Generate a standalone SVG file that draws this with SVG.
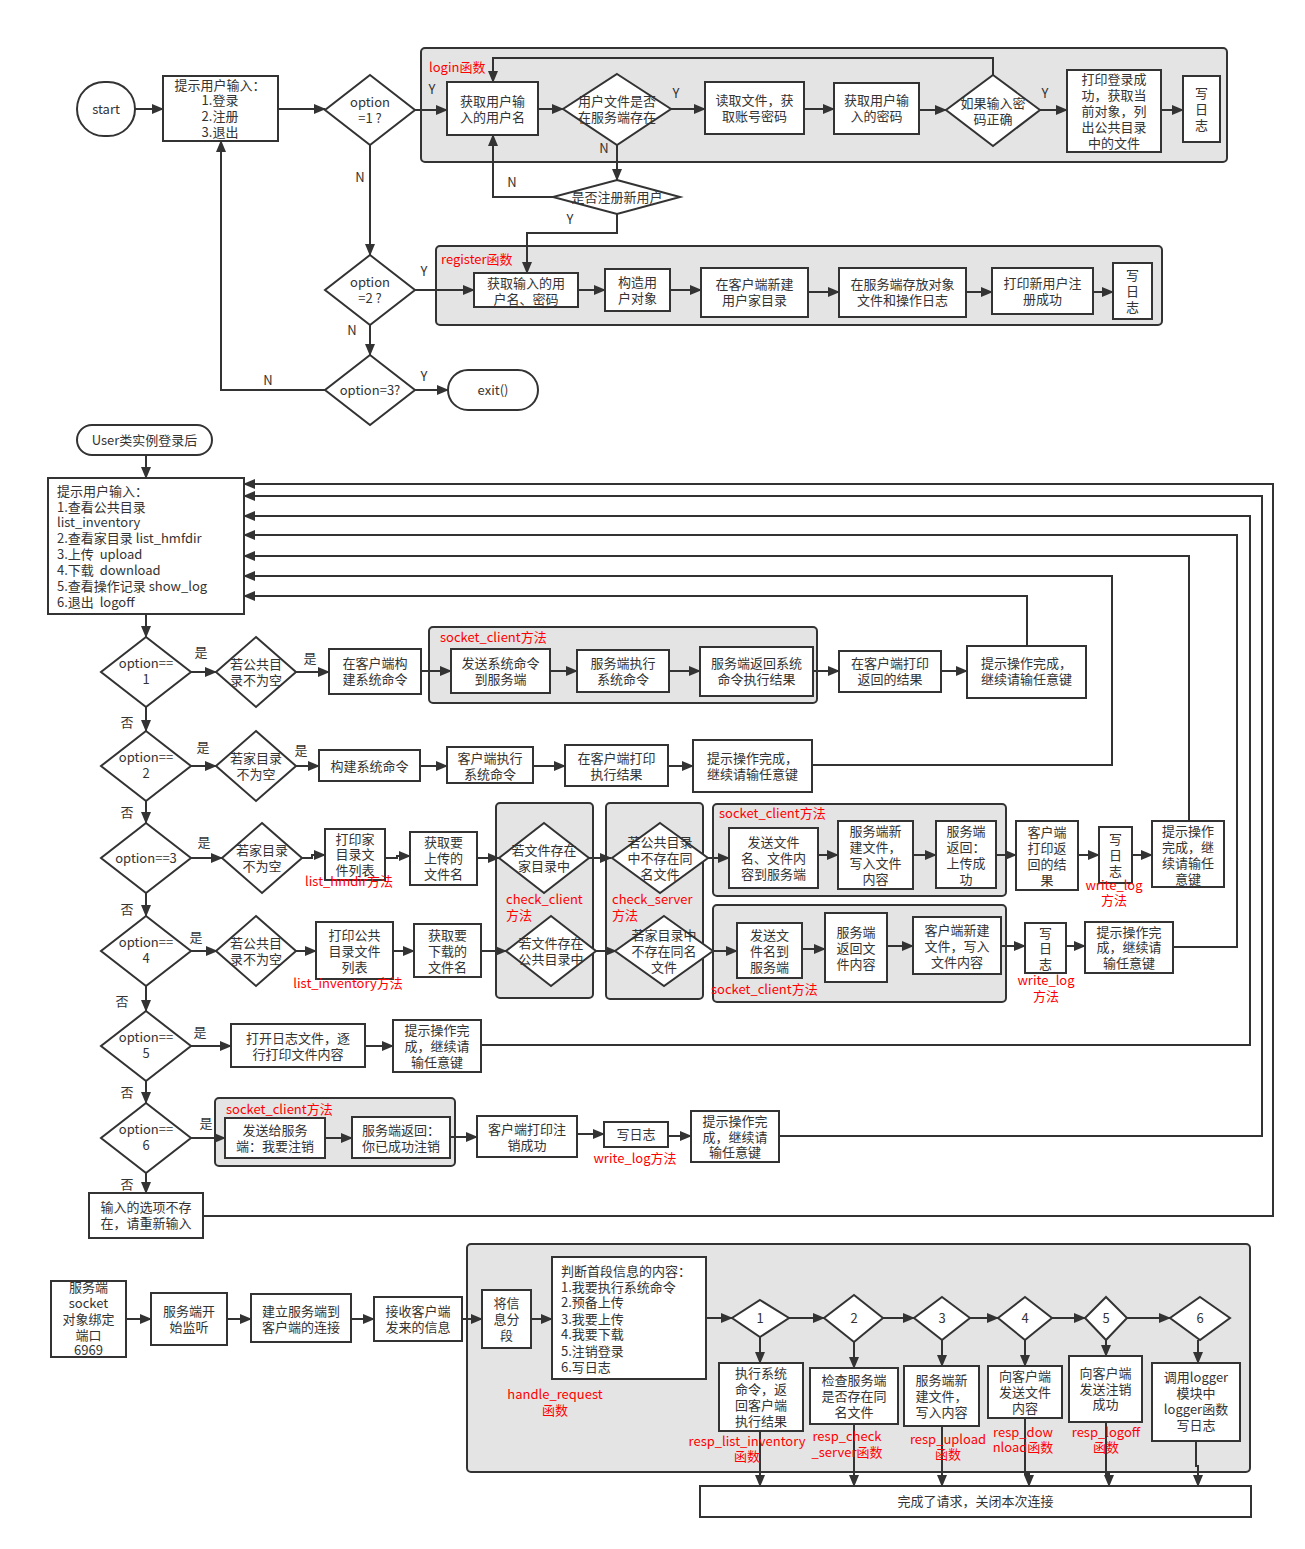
<svg xmlns="http://www.w3.org/2000/svg" width="1305" height="1549" viewBox="0 0 1305 1549">
<defs>
<style>
text{font-family:"Noto Sans CJK SC","Noto Sans",sans-serif;font-size:13px;fill:#333}
.t{text-anchor:middle}
.r{fill:#f00}
.b{fill:#fff;stroke:#333;stroke-width:2}
.g{fill:#e4e4e4;stroke:#333;stroke-width:2}
#connectors path{fill:none;stroke:#333;stroke-width:2}
.a{marker-end:url(#ah)}
</style>
<marker id="ah" viewBox="0 0 12 10" refX="11" refY="5" markerWidth="12" markerHeight="10" markerUnits="userSpaceOnUse" orient="auto"><path d="M0,0 L12,5 L0,10 z" fill="#333"/></marker>
</defs>
<rect width="1305" height="1549" fill="#fff"/>

<!-- groups (containers) -->
<g id="grp-login"><rect class="g" x="421" y="48" width="806" height="114" rx="4"/><text class="r" x="429" y="72">login函数</text></g>
<g id="grp-register"><rect class="g" x="436" y="246" width="726" height="79" rx="4"/><text class="r" x="441" y="264">register函数</text></g>
<g id="grp-sock1"><rect class="g" x="429" y="627" width="388" height="76" rx="4"/><text class="r" x="440" y="642">socket_client方法</text></g>
<g id="grp-checkc"><rect class="g" x="496" y="803" width="97" height="195" rx="4"/><text class="r" x="506" y="904">check_client</text><text class="r" x="506" y="920">方法</text></g>
<g id="grp-checks"><rect class="g" x="606" y="803" width="97" height="196" rx="4"/><text class="r" x="612" y="904">check_server</text><text class="r" x="612" y="920">方法</text></g>
<g id="grp-sock3"><rect class="g" x="713" y="804" width="293" height="92" rx="4"/><text class="r" x="719" y="818">socket_client方法</text></g>
<g id="grp-sock4"><rect class="g" x="713" y="905" width="293" height="97" rx="4"/><text class="r" x="711" y="994">socket_client方法</text></g>
<g id="grp-sock6"><rect class="g" x="215" y="1098" width="240" height="68" rx="4"/><text class="r" x="226" y="1114">socket_client方法</text></g>
<g id="grp-handle"><rect class="g" x="467" y="1244" width="783" height="228" rx="4"/><text class="r t"><tspan x="555" y="1399">handle_request</tspan><tspan x="555" y="1415">函数</tspan></text></g>

<!-- connectors -->
<g id="connectors">
<path class="a" d="M135,109 H163"/>
<path class="a" d="M278,109 H325"/>
<path class="a" d="M415,110 H447"/>
<path class="a" d="M538,109 H563"/>
<path class="a" d="M671,109 H705"/>
<path class="a" d="M804,109 H834"/>
<path class="a" d="M919,110 H946"/>
<path class="a" d="M1040,110 H1067"/>
<path class="a" d="M1161,110 H1183"/>
<path class="a" d="M993,75 V58 H493 V82"/>
<path class="a" d="M617,145 V180"/>
<path class="a" d="M553,197 H493 V135"/>
<path class="a" d="M617,214 V233 H527 V273"/>
<path class="a" d="M370,145 V255"/>
<path class="a" d="M415,290 H474"/>
<path class="a" d="M578,290 H605"/>
<path class="a" d="M670,290 H701"/>
<path class="a" d="M808,292 H839"/>
<path class="a" d="M966,292 H992"/>
<path class="a" d="M1093,292 H1113"/>
<path class="a" d="M370,325 V355"/>
<path class="a" d="M415,390 H448"/>
<path class="a" d="M325,390 H221 V141"/>

<path class="a" d="M146,455 V478"/>
<path class="a" d="M203,1216 H1273 V484 H244"/>
<path class="a" d="M779,1136 H1262 V496 H244"/>
<path class="a" d="M481,1045 H1250 V516 H244"/>
<path class="a" d="M1173,947 H1237 V535 H244"/>
<path class="a" d="M1189,821 V556 H244"/>
<path class="a" d="M812,765 H1112 V576 H244"/>
<path class="a" d="M1027,646 V596 H244"/>

<path class="a" d="M146,614 V637"/>
<path class="a" d="M146,707 V731"/>
<path class="a" d="M146,801 V823"/>
<path class="a" d="M146,893 V916"/>
<path class="a" d="M146,986 V1011"/>
<path class="a" d="M146,1081 V1103"/>
<path class="a" d="M146,1173 V1193"/>

<path class="a" d="M191,672 H216"/>
<path class="a" d="M296,672 H329"/>
<path class="a" d="M421,671 H451"/>
<path class="a" d="M550,671 H577"/>
<path class="a" d="M669,671 H700"/>
<path class="a" d="M813,671 H839"/>
<path class="a" d="M941,671 H967"/>

<path class="a" d="M191,766 H216"/>
<path class="a" d="M296,766 H319"/>
<path class="a" d="M420,766 H447"/>
<path class="a" d="M533,766 H565"/>
<path class="a" d="M668,766 H693"/>

<path class="a" d="M191,858 H222"/>
<path class="a" d="M302,858 H312 V855 H325"/>
<path class="a" d="M385,858 H397 V856 H410"/>
<path class="a" d="M477,858 H499"/>
<path class="a" d="M589,858 H611"/>
<path class="a" d="M708,858 H729"/>
<path class="a" d="M818,855 H838"/>
<path class="a" d="M913,855 H936"/>
<path class="a" d="M996,855 H1016"/>
<path class="a" d="M1078,855 H1099"/>
<path class="a" d="M1132,855 H1152"/>

<path class="a" d="M191,951 H217"/>
<path class="a" d="M296,951 H316"/>
<path class="a" d="M393,951 H414"/>
<path class="a" d="M481,951 H506"/>
<path class="a" d="M596,951 H616"/>
<path class="a" d="M713,951 H737"/>
<path class="a" d="M802,949 H825"/>
<path class="a" d="M887,946 H913"/>
<path class="a" d="M1001,946 H1025"/>
<path class="a" d="M1066,946 H1085"/>

<path class="a" d="M191,1046 H231"/>
<path class="a" d="M365,1046 H393"/>

<path class="a" d="M191,1138 H225"/>
<path class="a" d="M325,1138 H352"/>
<path class="a" d="M450,1137 H477"/>
<path class="a" d="M577,1134 H604"/>
<path class="a" d="M668,1136 H691"/>

<path class="a" d="M126,1319 H151"/>
<path class="a" d="M227,1319 H251"/>
<path class="a" d="M351,1319 H374"/>
<path class="a" d="M462,1319 H482"/>
<path class="a" d="M531,1319 H552"/>
<path class="a" d="M706,1318 H732"/>
<path class="a" d="M789,1318 H824"/>
<path class="a" d="M883,1318 H914"/>
<path class="a" d="M970,1318 H998"/>
<path class="a" d="M1052,1318 H1085"/>
<path class="a" d="M1127,1318 H1170"/>
<path class="a" d="M760,1337 V1363"/>
<path class="a" d="M854,1342 V1368"/>
<path class="a" d="M942,1340 V1366"/>
<path class="a" d="M1025,1340 V1366"/>
<path class="a" d="M1106,1340 V1356"/>
<path class="a" d="M1198,1340 V1363"/>
<path class="a" d="M760,1431 V1486"/>
<path class="a" d="M854,1424 V1486"/>
<path class="a" d="M942,1426 V1486"/>
<path class="a" d="M1025,1418 V1474 H1029 V1486"/>
<path class="a" d="M1106,1422 V1474 H1109 V1486"/>
<path class="a" d="M1196,1441 V1466 H1198 V1486"/>
</g>

<!-- connector labels -->
<g id="labels">
<text class="t" x="432" y="94">Y</text>
<text class="t" x="676" y="98">Y</text>
<text class="t" x="604" y="153">N</text>
<text class="t" x="1045" y="98">Y</text>
<text class="t" x="512" y="187">N</text>
<text class="t" x="570" y="224">Y</text>
<text class="t" x="360" y="182">N</text>
<text class="t" x="424" y="276">Y</text>
<text class="t" x="352" y="335">N</text>
<text class="t" x="424" y="381">Y</text>
<text class="t" x="268" y="385">N</text>
<text class="t" x="201" y="657">是</text>
<text class="t" x="310" y="663">是</text>
<text class="t" x="203" y="752">是</text>
<text class="t" x="301" y="755">是</text>
<text class="t" x="204" y="847">是</text>
<text class="t" x="196" y="942">是</text>
<text class="t" x="200" y="1037">是</text>
<text class="t" x="206" y="1128">是</text>
<text class="t" x="127" y="727">否</text>
<text class="t" x="127" y="817">否</text>
<text class="t" x="127" y="914">否</text>
<text class="t" x="122" y="1006">否</text>
<text class="t" x="127" y="1097">否</text>
<text class="t" x="127" y="1189">否</text>
</g>

<!-- top section nodes -->
<g id="start"><rect class="b" x="77" y="82" width="58" height="54" rx="27"/><text class="t" x="106" y="114">start</text></g>
<g id="menu1"><rect class="b" x="163" y="76" width="115" height="65"/><text class="t"><tspan x="220" y="90">提示用户输入：</tspan><tspan x="220" y="105">1.登录</tspan><tspan x="220" y="121">2.注册</tspan><tspan x="220" y="137">3.退出</tspan></text></g>
<g id="opt1"><polygon class="b" points="370,75 415,110 370,145 325,110"/><text class="t"><tspan x="370" y="107">option</tspan><tspan x="370" y="123">=1 ?</tspan></text></g>
<g id="login-name"><rect class="b" x="447" y="82" width="91" height="53"/><text class="t"><tspan x="492.5" y="106">获取用户输</tspan><tspan x="492.5" y="122">入的用户名</tspan></text></g>
<g id="login-exist"><polygon class="b" points="617,74 671,109 617,145 563,109"/><text class="t"><tspan x="617" y="106">用户文件是否</tspan><tspan x="617" y="122">在服务端存在</tspan></text></g>
<g id="login-read"><rect class="b" x="705" y="82" width="99" height="52"/><text class="t"><tspan x="754.5" y="105">读取文件，获</tspan><tspan x="754.5" y="121">取账号密码</tspan></text></g>
<g id="login-pwd"><rect class="b" x="834" y="83" width="85" height="51"/><text class="t"><tspan x="876.5" y="105">获取用户输</tspan><tspan x="876.5" y="121">入的密码</tspan></text></g>
<g id="login-ok"><polygon class="b" points="993,75 1040,110 993,146 946,110"/><text class="t"><tspan x="993" y="108">如果输入密</tspan><tspan x="993" y="124">码正确</tspan></text></g>
<g id="login-print"><rect class="b" x="1067" y="70" width="94" height="82"/><text class="t"><tspan x="1114" y="84">打印登录成</tspan><tspan x="1114" y="100">功，获取当</tspan><tspan x="1114" y="116">前对象，列</tspan><tspan x="1114" y="132">出公共目录</tspan><tspan x="1114" y="148">中的文件</tspan></text></g>
<g id="login-log"><rect class="b" x="1183" y="76" width="37" height="66"/><text class="t"><tspan x="1201.5" y="98">写</tspan><tspan x="1201.5" y="114">日</tspan><tspan x="1201.5" y="130">志</tspan></text></g>
<g id="reg-ask"><polygon class="b" points="617,180 680,197 617,214 553,197"/><text class="t" x="617" y="202">是否注册新用户</text></g>
<g id="opt2"><polygon class="b" points="370,255 415,290 370,325 325,290"/><text class="t"><tspan x="370" y="287">option</tspan><tspan x="370" y="303">=2 ?</tspan></text></g>
<g id="reg-input"><rect class="b" x="474" y="273" width="104" height="34"/><text class="t"><tspan x="526" y="288">获取输入的用</tspan><tspan x="526" y="304">户名、密码</tspan></text></g>
<g id="reg-obj"><rect class="b" x="605" y="269" width="65" height="42"/><text class="t"><tspan x="637.5" y="287">构造用</tspan><tspan x="637.5" y="303">户对象</tspan></text></g>
<g id="reg-home"><rect class="b" x="701" y="268" width="107" height="49"/><text class="t"><tspan x="754.5" y="289">在客户端新建</tspan><tspan x="754.5" y="305">用户家目录</tspan></text></g>
<g id="reg-store"><rect class="b" x="839" y="268" width="127" height="49"/><text class="t"><tspan x="902.5" y="289">在服务端存放对象</tspan><tspan x="902.5" y="305">文件和操作日志</tspan></text></g>
<g id="reg-print"><rect class="b" x="992" y="268" width="101" height="46"/><text class="t"><tspan x="1042.5" y="288">打印新用户注</tspan><tspan x="1042.5" y="304">册成功</tspan></text></g>
<g id="reg-log"><rect class="b" x="1113" y="263" width="39" height="56"/><text class="t"><tspan x="1132.5" y="280">写</tspan><tspan x="1132.5" y="296">日</tspan><tspan x="1132.5" y="312">志</tspan></text></g>
<g id="opt3"><polygon class="b" points="370,355 415,390 370,425 325,390"/><text class="t" x="370" y="395">option=3?</text></g>
<g id="exit"><rect class="b" x="448" y="370" width="90" height="40" rx="20"/><text class="t" x="493" y="395">exit()</text></g>

<!-- middle section nodes -->
<g id="user"><rect class="b" x="77" y="425" width="135" height="30" rx="15"/><text class="t" x="144.5" y="445">User类实例登录后</text></g>
<g id="menu2"><rect class="b" x="48" y="478" width="196" height="136"/><text><tspan x="57" y="496">提示用户输入：</tspan><tspan x="57" y="512">1.查看公共目录</tspan><tspan x="57" y="527">list_inventory</tspan><tspan x="57" y="543">2.查看家目录 list_hmfdir</tspan><tspan x="57" y="559">3.上传&#160; upload</tspan><tspan x="57" y="575">4.下载&#160; download</tspan><tspan x="57" y="591">5.查看操作记录 show_log</tspan><tspan x="57" y="607">6.退出&#160; logoff</tspan></text></g>

<g id="o1"><polygon class="b" points="146,637 191,672 146,707 101,672"/><text class="t"><tspan x="146" y="668">option==</tspan><tspan x="146" y="684">1</tspan></text></g>
<g id="o1-check"><polygon class="b" points="256,637 296,672 256,707 216,672"/><text class="t"><tspan x="256" y="669">若公共目</tspan><tspan x="256" y="685">录不为空</tspan></text></g>
<g id="o1-build"><rect class="b" x="329" y="649" width="92" height="45"/><text class="t"><tspan x="375" y="668">在客户端构</tspan><tspan x="375" y="684">建系统命令</tspan></text></g>
<g id="o1-send"><rect class="b" x="451" y="649" width="99" height="44"/><text class="t"><tspan x="500.5" y="668">发送系统命令</tspan><tspan x="500.5" y="684">到服务端</tspan></text></g>
<g id="o1-exec"><rect class="b" x="577" y="650" width="92" height="42"/><text class="t"><tspan x="623" y="668">服务端执行</tspan><tspan x="623" y="684">系统命令</tspan></text></g>
<g id="o1-ret"><rect class="b" x="700" y="647" width="113" height="49"/><text class="t"><tspan x="756.5" y="668">服务端返回系统</tspan><tspan x="756.5" y="684">命令执行结果</tspan></text></g>
<g id="o1-print"><rect class="b" x="839" y="651" width="102" height="41"/><text class="t"><tspan x="890" y="668">在客户端打印</tspan><tspan x="890" y="684">返回的结果</tspan></text></g>
<g id="o1-done"><rect class="b" x="967" y="646" width="119" height="52"/><text class="t"><tspan x="1026.5" y="668">提示操作完成，</tspan><tspan x="1026.5" y="684">继续请输任意键</tspan></text></g>

<g id="o2"><polygon class="b" points="146,731 191,766 146,801 101,766"/><text class="t"><tspan x="146" y="762">option==</tspan><tspan x="146" y="778">2</tspan></text></g>
<g id="o2-check"><polygon class="b" points="256,731 296,766 256,801 216,766"/><text class="t"><tspan x="256" y="763">若家目录</tspan><tspan x="256" y="779">不为空</tspan></text></g>
<g id="o2-build"><rect class="b" x="319" y="750" width="101" height="31"/><text class="t" x="369.5" y="771">构建系统命令</text></g>
<g id="o2-exec"><rect class="b" x="447" y="747" width="86" height="36"/><text class="t"><tspan x="490" y="763">客户端执行</tspan><tspan x="490" y="779">系统命令</tspan></text></g>
<g id="o2-print"><rect class="b" x="565" y="745" width="103" height="41"/><text class="t"><tspan x="616.5" y="763">在客户端打印</tspan><tspan x="616.5" y="779">执行结果</tspan></text></g>
<g id="o2-done"><rect class="b" x="693" y="740" width="119" height="52"/><text class="t"><tspan x="752.5" y="763">提示操作完成，</tspan><tspan x="752.5" y="779">继续请输任意键</tspan></text></g>

<g id="o3"><polygon class="b" points="146,823 191,858 146,893 101,858"/><text class="t" x="146" y="863">option==3</text></g>
<g id="o3-check"><polygon class="b" points="262,823 302,858 262,893 222,858"/><text class="t"><tspan x="262" y="855">若家目录</tspan><tspan x="262" y="871">不为空</tspan></text></g>
<g id="o3-list"><rect class="b" x="325" y="829" width="60" height="51"/><text class="t"><tspan x="355" y="844">打印家</tspan><tspan x="355" y="859">目录文</tspan><tspan x="355" y="875">件列表</tspan></text><text class="t r" x="349" y="886">list_hmdir方法</text></g>
<g id="o3-name"><rect class="b" x="410" y="832" width="67" height="53"/><text class="t"><tspan x="443.5" y="847">获取要</tspan><tspan x="443.5" y="863">上传的</tspan><tspan x="443.5" y="879">文件名</tspan></text></g>
<g id="o3-cc"><polygon class="b" points="544,823 589,858 544,893 499,858"/><text class="t"><tspan x="544" y="855">若文件存在</tspan><tspan x="544" y="871">家目录中</tspan></text></g>
<g id="o3-cs"><polygon class="b" points="660,823 708,858 660,893 612,858"/><text class="t"><tspan x="660" y="847">若公共目录</tspan><tspan x="660" y="863">中不存在同</tspan><tspan x="660" y="879">名文件</tspan></text></g>
<g id="o3-send"><rect class="b" x="729" y="828" width="89" height="60"/><text class="t"><tspan x="773.5" y="847">发送文件</tspan><tspan x="773.5" y="863">名、文件内</tspan><tspan x="773.5" y="879">容到服务端</tspan></text></g>
<g id="o3-new"><rect class="b" x="838" y="821" width="75" height="68"/><text class="t"><tspan x="875.5" y="836">服务端新</tspan><tspan x="875.5" y="852">建文件，</tspan><tspan x="875.5" y="868">写入文件</tspan><tspan x="875.5" y="884">内容</tspan></text></g>
<g id="o3-ret"><rect class="b" x="936" y="821" width="60" height="67"/><text class="t"><tspan x="966" y="836">服务端</tspan><tspan x="966" y="852">返回：</tspan><tspan x="966" y="868">上传成</tspan><tspan x="966" y="884">功</tspan></text></g>
<g id="o3-print"><rect class="b" x="1016" y="821" width="62" height="69"/><text class="t"><tspan x="1047" y="837">客户端</tspan><tspan x="1047" y="853">打印返</tspan><tspan x="1047" y="869">回的结</tspan><tspan x="1047" y="885">果</tspan></text></g>
<g id="o3-log"><rect class="b" x="1099" y="827" width="33" height="56"/><text class="t"><tspan x="1115.5" y="844">写</tspan><tspan x="1115.5" y="860">日</tspan><tspan x="1115.5" y="876">志</tspan></text><text class="t r"><tspan x="1114" y="890">write_log</tspan><tspan x="1114" y="905">方法</tspan></text></g>
<g id="o3-done"><rect class="b" x="1152" y="821" width="72" height="66"/><text class="t"><tspan x="1188" y="836">提示操作</tspan><tspan x="1188" y="852">完成，继</tspan><tspan x="1188" y="868">续请输任</tspan><tspan x="1188" y="884">意键</tspan></text></g>

<g id="o4"><polygon class="b" points="146,916 191,951 146,986 101,951"/><text class="t"><tspan x="146" y="947">option==</tspan><tspan x="146" y="963">4</tspan></text></g>
<g id="o4-check"><polygon class="b" points="256,916 296,951 256,986 216,951"/><text class="t"><tspan x="256" y="948">若公共目</tspan><tspan x="256" y="964">录不为空</tspan></text></g>
<g id="o4-list"><rect class="b" x="316" y="922" width="77" height="57"/><text class="t"><tspan x="354.5" y="940">打印公共</tspan><tspan x="354.5" y="956">目录文件</tspan><tspan x="354.5" y="972">列表</tspan></text><text class="t r" x="348" y="988">list_inventory方法</text></g>
<g id="o4-name"><rect class="b" x="414" y="924" width="67" height="53"/><text class="t"><tspan x="447.5" y="940">获取要</tspan><tspan x="447.5" y="956">下载的</tspan><tspan x="447.5" y="972">文件名</tspan></text></g>
<g id="o4-cc"><polygon class="b" points="551,916 596,951 551,986 506,951"/><text class="t"><tspan x="551" y="948">若文件存在</tspan><tspan x="551" y="964">公共目录中</tspan></text></g>
<g id="o4-cs"><polygon class="b" points="664,916 713,951 664,986 615,951"/><text class="t"><tspan x="664" y="940">若家目录中</tspan><tspan x="664" y="956">不存在同名</tspan><tspan x="664" y="972">文件</tspan></text></g>
<g id="o4-send"><rect class="b" x="737" y="923" width="65" height="55"/><text class="t"><tspan x="769.5" y="940">发送文</tspan><tspan x="769.5" y="956">件名到</tspan><tspan x="769.5" y="972">服务端</tspan></text></g>
<g id="o4-ret"><rect class="b" x="825" y="913" width="62" height="69"/><text class="t"><tspan x="856" y="937">服务端</tspan><tspan x="856" y="953">返回文</tspan><tspan x="856" y="969">件内容</tspan></text></g>
<g id="o4-new"><rect class="b" x="913" y="917" width="88" height="57"/><text class="t"><tspan x="957" y="935">客户端新建</tspan><tspan x="957" y="951">文件，写入</tspan><tspan x="957" y="967">文件内容</tspan></text></g>
<g id="o4-log"><rect class="b" x="1025" y="923" width="41" height="50"/><text class="t"><tspan x="1045.5" y="938">写</tspan><tspan x="1045.5" y="953">日</tspan><tspan x="1045.5" y="969">志</tspan></text><text class="t r"><tspan x="1046" y="985">write_log</tspan><tspan x="1046" y="1001">方法</tspan></text></g>
<g id="o4-done"><rect class="b" x="1085" y="922" width="88" height="51"/><text class="t"><tspan x="1129" y="937">提示操作完</tspan><tspan x="1129" y="952">成，继续请</tspan><tspan x="1129" y="968">输任意键</tspan></text></g>

<g id="o5"><polygon class="b" points="146,1011 191,1046 146,1081 101,1046"/><text class="t"><tspan x="146" y="1042">option==</tspan><tspan x="146" y="1058">5</tspan></text></g>
<g id="o5-open"><rect class="b" x="231" y="1024" width="134" height="43"/><text class="t"><tspan x="298" y="1043">打开日志文件，逐</tspan><tspan x="298" y="1059">行打印文件内容</tspan></text></g>
<g id="o5-done"><rect class="b" x="393" y="1020" width="88" height="52"/><text class="t"><tspan x="437" y="1035">提示操作完</tspan><tspan x="437" y="1051">成，继续请</tspan><tspan x="437" y="1067">输任意键</tspan></text></g>

<g id="o6"><polygon class="b" points="146,1103 191,1138 146,1173 101,1138"/><text class="t"><tspan x="146" y="1134">option==</tspan><tspan x="146" y="1150">6</tspan></text></g>
<g id="o6-send"><rect class="b" x="225" y="1118" width="100" height="40"/><text class="t"><tspan x="275" y="1135">发送给服务</tspan><tspan x="275" y="1151">端：我要注销</tspan></text></g>
<g id="o6-ret"><rect class="b" x="352" y="1117" width="98" height="41"/><text class="t"><tspan x="401" y="1135">服务端返回：</tspan><tspan x="401" y="1151">你已成功注销</tspan></text></g>
<g id="o6-print"><rect class="b" x="477" y="1116" width="100" height="41"/><text class="t"><tspan x="527" y="1134">客户端打印注</tspan><tspan x="527" y="1150">销成功</tspan></text></g>
<g id="o6-log"><rect class="b" x="604" y="1122" width="64" height="25"/><text class="t" x="636" y="1139">写日志</text><text class="t r" x="635" y="1163">write_log方法</text></g>
<g id="o6-done"><rect class="b" x="691" y="1111" width="88" height="51"/><text class="t"><tspan x="735" y="1126">提示操作完</tspan><tspan x="735" y="1142">成，继续请</tspan><tspan x="735" y="1157">输任意键</tspan></text></g>
<g id="invalid"><rect class="b" x="89" y="1193" width="114" height="45"/><text class="t"><tspan x="146" y="1212">输入的选项不存</tspan><tspan x="146" y="1228">在，请重新输入</tspan></text></g>

<!-- bottom section nodes -->
<g id="srv-bind"><rect class="b" x="51" y="1281" width="75" height="76"/><text class="t"><tspan x="88.5" y="1292">服务端</tspan><tspan x="88.5" y="1308">socket</tspan><tspan x="88.5" y="1324">对象绑定</tspan><tspan x="88.5" y="1340">端口</tspan><tspan x="88.5" y="1355">6969</tspan></text></g>
<g id="srv-listen"><rect class="b" x="151" y="1293" width="76" height="52"/><text class="t"><tspan x="189" y="1316">服务端开</tspan><tspan x="189" y="1332">始监听</tspan></text></g>
<g id="srv-conn"><rect class="b" x="251" y="1294" width="100" height="48"/><text class="t"><tspan x="301" y="1316">建立服务端到</tspan><tspan x="301" y="1332">客户端的连接</tspan></text></g>
<g id="srv-recv"><rect class="b" x="374" y="1297" width="88" height="44"/><text class="t"><tspan x="418" y="1316">接收客户端</tspan><tspan x="418" y="1332">发来的信息</tspan></text></g>
<g id="srv-split"><rect class="b" x="482" y="1290" width="49" height="58"/><text class="t"><tspan x="506.5" y="1308">将信</tspan><tspan x="506.5" y="1324">息分</tspan><tspan x="506.5" y="1340">段</tspan></text></g>
<g id="srv-judge"><rect class="b" x="552" y="1257" width="154" height="122"/><text><tspan x="561" y="1276">判断首段信息的内容：</tspan><tspan x="561" y="1292">1.我要执行系统命令</tspan><tspan x="561" y="1307">2.预备上传</tspan><tspan x="561" y="1324">3.我要上传</tspan><tspan x="561" y="1339">4.我要下载</tspan><tspan x="561" y="1356">5.注销登录</tspan><tspan x="561" y="1372">6.写日志</tspan></text></g>
<g id="d1"><polygon class="b" points="760,1300 789,1318 760,1337 732,1318"/><text class="t" x="760" y="1323">1</text></g>
<g id="d2"><polygon class="b" points="854,1295 883,1318 854,1342 824,1318"/><text class="t" x="854" y="1323">2</text></g>
<g id="d3"><polygon class="b" points="942,1297 970,1318 942,1340 914,1318"/><text class="t" x="942" y="1323">3</text></g>
<g id="d4"><polygon class="b" points="1025,1297 1052,1318 1025,1340 998,1318"/><text class="t" x="1025" y="1323">4</text></g>
<g id="d5"><polygon class="b" points="1106,1297 1127,1318 1106,1340 1085,1318"/><text class="t" x="1106" y="1323">5</text></g>
<g id="d6"><polygon class="b" points="1200,1297 1230,1318 1200,1340 1170,1318"/><text class="t" x="1200" y="1323">6</text></g>
<g id="h1"><rect class="b" x="719" y="1363" width="84" height="68"/><text class="t"><tspan x="761" y="1378">执行系统</tspan><tspan x="761" y="1394">命令，返</tspan><tspan x="761" y="1410">回客户端</tspan><tspan x="761" y="1426">执行结果</tspan></text><text class="t r"><tspan x="747" y="1446">resp_list_inventory</tspan><tspan x="747" y="1461">函数</tspan></text></g>
<g id="h2"><rect class="b" x="810" y="1368" width="88" height="56"/><text class="t"><tspan x="854" y="1385">检查服务端</tspan><tspan x="854" y="1401">是否存在同</tspan><tspan x="854" y="1417">名文件</tspan></text><text class="t r"><tspan x="847" y="1441">resp_check</tspan><tspan x="847" y="1457">_server函数</tspan></text></g>
<g id="h3"><rect class="b" x="904" y="1366" width="75" height="60"/><text class="t"><tspan x="941.5" y="1385">服务端新</tspan><tspan x="941.5" y="1401">建文件，</tspan><tspan x="941.5" y="1417">写入内容</tspan></text><text class="t r"><tspan x="948" y="1444">resp_upload</tspan><tspan x="948" y="1459">函数</tspan></text></g>
<g id="h4"><rect class="b" x="988" y="1366" width="74" height="52"/><text class="t"><tspan x="1025" y="1381">向客户端</tspan><tspan x="1025" y="1397">发送文件</tspan><tspan x="1025" y="1413">内容</tspan></text><text class="t r"><tspan x="1023" y="1437">resp_dow</tspan><tspan x="1023" y="1452">nload函数</tspan></text></g>
<g id="h5"><rect class="b" x="1069" y="1356" width="73" height="66"/><text class="t"><tspan x="1105.5" y="1378">向客户端</tspan><tspan x="1105.5" y="1394">发送注销</tspan><tspan x="1105.5" y="1409">成功</tspan></text><text class="t r"><tspan x="1106" y="1437">resp_logoff</tspan><tspan x="1106" y="1452">函数</tspan></text></g>
<g id="h6"><rect class="b" x="1152" y="1363" width="88" height="78"/><text class="t"><tspan x="1196" y="1382">调用logger</tspan><tspan x="1196" y="1398">模块中</tspan><tspan x="1196" y="1414">logger函数</tspan><tspan x="1196" y="1430">写日志</tspan></text></g>
<g id="finish"><rect class="b" x="700" y="1486" width="551" height="31"/><text class="t" x="975.5" y="1506">完成了请求，关闭本次连接</text></g>
</svg>
